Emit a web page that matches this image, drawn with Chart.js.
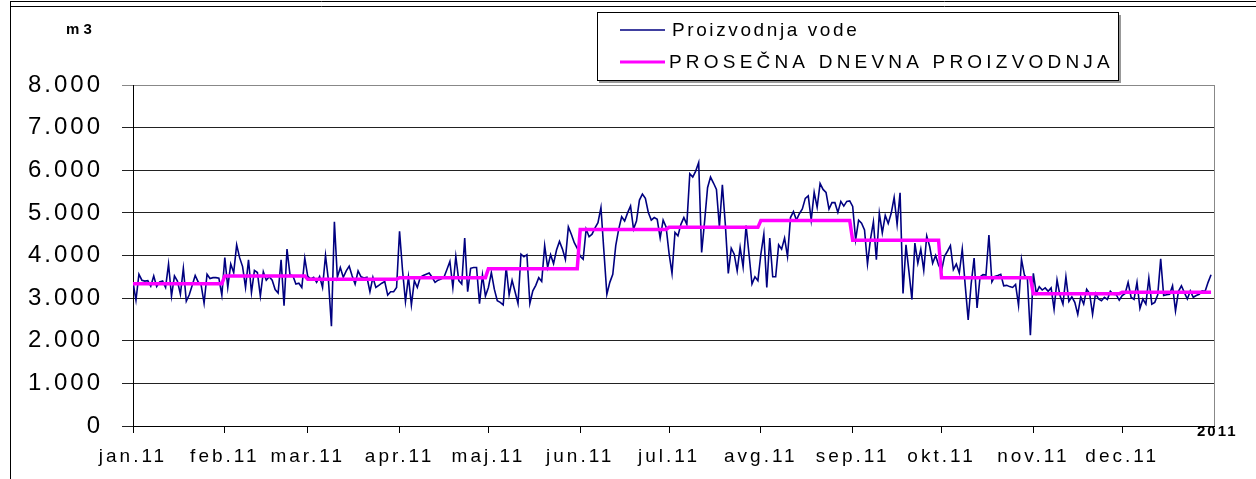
<!DOCTYPE html>
<html>
<head>
<meta charset="utf-8">
<script src="https://cdn.jsdelivr.net/npm/chart.js@4"></script>
<style>
  html, body { margin: 0; padding: 0; background: #fff; }
</style>
</head>
<body>
<canvas id="chart" width="1256" height="479"></canvas>
<script>
// dnevna proizvodnja vode 2011 (m3), po mesecima
const jan = [3380, 2950, 3560, 3420, 3400, 3410, 3280, 3520, 3270, 3380, 3400, 3250, 3800, 3050, 3520, 3400, 3090, 3700, 2930, 3080, 3300, 3530, 3380, 3310, 2880, 3560, 3460, 3480, 3480, 3470, 3070];
const feb = [3950, 3250, 3800, 3600, 4250, 3950, 3740, 3250, 3900, 3130, 3650, 3600, 3050, 3620, 3420, 3500, 3420, 3200, 3120, 3900, 2820, 4150, 3550, 3520, 3330, 3350, 3250, 3940];
const mar = [3510, 3450, 3490, 3370, 3510, 3250, 4000, 3410, 2340, 4790, 3490, 3720, 3490, 3640, 3750, 3520, 3330, 3640, 3500, 3470, 3490, 3150, 3490, 3250, 3300, 3350, 3390, 3070, 3150, 3150, 3250];
const apr = [4570, 3660, 2920, 3500, 2840, 3410, 3250, 3490, 3530, 3560, 3590, 3490, 3370, 3420, 3450, 3490, 3670, 3860, 3250, 3980, 3410, 3330, 4410, 3150, 3700, 3720, 3720, 2870, 3540, 3050];
const maj = [3250, 3600, 3210, 2940, 2900, 2840, 3730, 3080, 3420, 3150, 2875, 4030, 3970, 4020, 2875, 3170, 3300, 3480, 3390, 4230, 3720, 4020, 3810, 4130, 4330, 4150, 3910, 4670, 4500, 4300, 4170];
const jun = [3980, 3910, 4620, 4440, 4500, 4650, 4770, 5125, 4100, 3090, 3370, 3560, 4230, 4620, 4910, 4810, 5000, 5160, 4620, 4810, 5300, 5440, 5340, 5010, 4830, 4890, 4850, 4410, 4830, 4670];
const jul = [4050, 3580, 4540, 4460, 4730, 4890, 4730, 5920, 5840, 5980, 6180, 4070, 4800, 5590, 5840, 5700, 5550, 4670, 5660, 4730, 3580, 4170, 4030, 3640, 4190, 3730, 4700, 4030, 3330, 3500, 3410];
const avg = [4030, 4500, 3250, 4410, 3500, 3500, 4250, 4150, 4410, 3980, 4890, 5030, 4830, 4980, 5090, 5340, 5400, 4830, 5480, 5130, 5690, 5550, 5480, 5090, 5240, 5240, 5010, 5270, 5160, 5270, 5280];
const sep = [5150, 4370, 4830, 4760, 4600, 3800, 4380, 4790, 3900, 4990, 4530, 4940, 4750, 4990, 5360, 4730, 5470, 3110, 4250, 3620, 2970, 4290, 3820, 4150, 3650, 4460, 4210, 3820, 4000, 3780];
const okt = [3640, 3980, 4100, 4230, 3670, 3800, 3590, 4150, 3300, 2490, 3330, 3940, 2770, 3500, 3550, 3540, 4480, 3380, 3510, 3530, 3560, 3290, 3300, 3270, 3250, 3320, 2830, 3910, 3540, 3450, 2130];
const nov = [3580, 3110, 3270, 3190, 3240, 3160, 3240, 2740, 3430, 3060, 2860, 3500, 2920, 3030, 2900, 2620, 3030, 2860, 3210, 3110, 2620, 3110, 2980, 2940, 3020, 2970, 3160, 3090, 3080, 2950];
const dec = [3060, 3110, 3370, 3020, 2970, 3370, 2760, 2980, 2860, 3470, 2860, 2900, 3080, 3920, 3060, 3080, 3090, 3290, 2700, 3160, 3290, 3130, 2980, 3170, 3020, 3060, 3090, 3170, 3160, 3370, 3550];

// prosecna dnevna proizvodnja po mesecu
const monthAverages = [3340, 3520, 3440, 3480, 3690, 4610, 4660, 4820, 4360, 3480, 3100, 3140];

const monthLabels = ['jan.11', 'feb.11', 'mar.11', 'apr.11', 'maj.11', 'jun.11', 'jul.11', 'avg.11', 'sep.11', 'okt.11', 'nov.11', 'dec.11'];
const yTicks = [0, 1000, 2000, 3000, 4000, 5000, 6000, 7000, 8000];

const seriesLabels = ['Proizvodnja vode', 'PROSEČNA DNEVNA PROIZVODNJA'];
const yearLabel = '2011';
const unitLabel = 'm 3';

const months = [jan, feb, mar, apr, maj, jun, jul, avg, sep, okt, nov, dec];

// first day index of every month
const monthStarts = [];
let dayCount = 0;
months.forEach((m) => {
  monthStarts.push(dayCount);
  dayCount += m.length;
});

const dailyPoints = months.flat().map((v, i) => ({ x: i, y: v }));
const averagePoints = months
  .flatMap((m, mi) => m.map(() => monthAverages[mi]))
  .map((v, i) => ({ x: i, y: v }));

const FONT = 'Liberation Sans, Arial, sans-serif';
const BLUE = '#000080';
const PINK = '#ff00ff';

// excel-like stretched text
const spacing = {
  id: 'spacing',
  beforeLayout: (chart) => { chart.ctx.letterSpacing = '3px'; },
  beforeDraw: (chart) => {
    const { ctx } = chart;
    ctx.save();
    ctx.fillStyle = '#fff';
    ctx.fillRect(0, 0, chart.width, chart.height);
    ctx.restore();
    ctx.letterSpacing = '3px';
  },
};

const decorations = {
  id: 'decorations',
  afterDraw: (chart) => {
    const { ctx, chartArea } = chart;
    ctx.save();
    ctx.letterSpacing = '0px';

    // frame lines
    ctx.strokeStyle = '#000';
    ctx.lineWidth = 1;
    ctx.beginPath();
    ctx.moveTo(10, 1.5); ctx.lineTo(1256, 1.5);
    ctx.moveTo(10, 6.5); ctx.lineTo(1256, 6.5);
    ctx.moveTo(10.5, 1); ctx.lineTo(10.5, 479);
    ctx.stroke();

    // right border of plot
    ctx.strokeStyle = '#888';
    ctx.beginPath();
    ctx.moveTo(Math.round(chartArea.right) + 0.5, chartArea.top);
    ctx.lineTo(Math.round(chartArea.right) + 0.5, chartArea.bottom);
    ctx.stroke();

    // unit and year
    ctx.fillStyle = '#000';
    ctx.textBaseline = 'middle';
    ctx.font = `bold 15px ${FONT}`;
    ctx.fillText(unitLabel, 66, 30);
    ctx.letterSpacing = '2px';
    ctx.fillText(yearLabel, 1197, 432);

    // legend box with light shadow
    ctx.strokeStyle = '#999';
    ctx.lineWidth = 2;
    ctx.beginPath();
    ctx.moveTo(1120, 15); ctx.lineTo(1120, 82); ctx.lineTo(599, 82);
    ctx.stroke();
    ctx.strokeStyle = '#000';
    ctx.lineWidth = 1;
    ctx.strokeRect(597.5, 12.5, 521, 68);

    ctx.lineWidth = 1.5;
    ctx.strokeStyle = BLUE;
    ctx.beginPath();
    ctx.moveTo(620, 30); ctx.lineTo(665, 30);
    ctx.stroke();
    ctx.lineWidth = 3;
    ctx.strokeStyle = PINK;
    ctx.beginPath();
    ctx.moveTo(620, 62); ctx.lineTo(665, 62);
    ctx.stroke();
    ctx.font = `19px ${FONT}`;
    ctx.letterSpacing = '2.6px';
    ctx.fillText(seriesLabels[0], 672, 31);
    ctx.letterSpacing = '4.2px';
    ctx.fillText(seriesLabels[1], 669, 63);
    ctx.restore();
  },
};

new Chart(document.getElementById('chart'), {
  type: 'line',
  data: {
    datasets: [
      {
        label: seriesLabels[0],
        data: dailyPoints,
        borderColor: BLUE,
        borderWidth: 1.6,
        pointRadius: 0,
        tension: 0,
        order: 1,
      },
      {
        label: seriesLabels[1],
        data: averagePoints,
        borderColor: PINK,
        borderWidth: 3.5,
        pointRadius: 0,
        tension: 0,
        order: 0,
      },
    ],
  },
  options: {
    responsive: false,
    animation: false,
    events: [],
    layout: { padding: { left: 0, top: 85, right: 42, bottom: 0 } },
    plugins: {
      legend: { display: false },
      tooltip: { enabled: false },
    },
    scales: {
      x: {
        type: 'linear',
        min: 0,
        max: dayCount,
        afterBuildTicks: (scale) => { scale.ticks = monthStarts.map((v) => ({ value: v })); },
        afterFit: (scale) => { scale.height = 53; },
        ticks: {
          callback: (v) => monthLabels[monthStarts.indexOf(v)],
          autoSkip: false,
          maxRotation: 0,
          padding: 12,
          color: '#000',
          font: { family: FONT, size: 19 },
        },
        grid: { drawOnChartArea: false, tickLength: 7, color: '#000' },
        border: { color: '#000' },
      },
      y: {
        min: 0,
        max: 8000,
        afterBuildTicks: (scale) => { scale.ticks = yTicks.map((v) => ({ value: v })); },
        afterFit: (scale) => { scale.width = 133; },
        ticks: {
          callback: (v) => (v === 0 ? '0' : `${v / 1000}.000`),
          padding: 19,
          color: '#000',
          font: { family: FONT, size: 24 },
        },
        grid: {
          tickLength: 11,
          color: (c) => (c.tick && c.tick.value === 8000 ? '#888' : '#222'),
        },
        border: { color: '#000' },
      },
    },
  },
  plugins: [spacing, decorations],
});
</script>
</body>
</html>
